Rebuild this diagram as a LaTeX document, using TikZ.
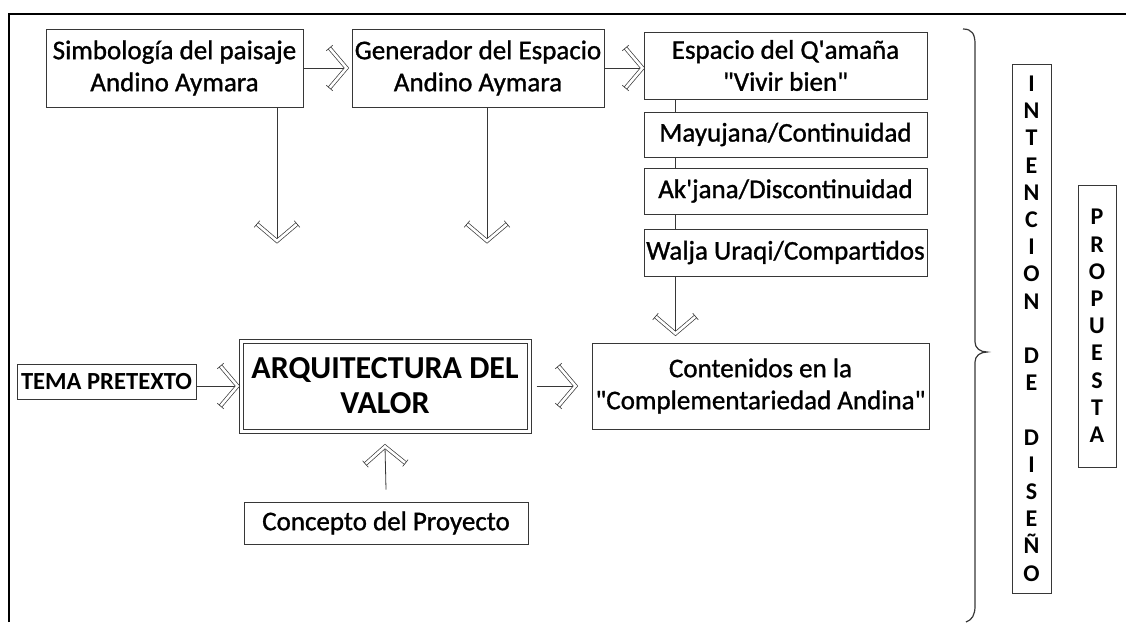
\documentclass[tikz,border=0pt]{standalone}
\usepackage{fontspec}
\setmainfont{Carlito}[Ligatures=TeXOff]
\newfontfamily\semib{Carlito}[Ligatures=TeXOff,FakeBold=1.1]
\usetikzlibrary{positioning,calc,decorations.markings}
\definecolor{edge}{RGB}{55,55,55}

\tikzset{
  stage/.style={draw=edge,line width=1pt,align=center,inner sep=0pt,
    font=\semib\fontsize{27}{32}\selectfont},
  letters/.style={draw=edge,line width=1pt,align=center,inner sep=0pt,
    font=\fontsize{24}{27.2}\selectfont\bfseries},
  link/.style={draw=edge,line width=.8pt,postaction={decorate,decoration={markings,
    mark=at position 1 with {
      \draw[edge,double,double distance=2.6pt,line width=.7pt,line join=miter]
        (-17pt,20pt) -- (0,0) -- (-17pt,-20pt);
      \draw[edge,line width=.6pt] (-20.3pt,17.2pt) -- (-13.7pt,22.8pt)
        (-20.3pt,-17.2pt) -- (-13.7pt,-22.8pt);}}}}
}

\begin{document}
\begin{tikzpicture}[x=1pt,y=-1pt]
    \useasboundingbox (0,0) rectangle (1126,622);
    \draw[line width=2pt] (9,622) -- (9,13.5) -- (1126,13.5);
    % top row
    \node[stage,minimum width=257pt,minimum height=78pt] (simb) at (174.5,68) {Simbología del paisaje\\Andino Aymara};
    \node[stage,minimum width=252pt,minimum height=78pt] (gener) at (478,68) {Generador del Espacio\\Andino Aymara};
    \node[stage,minimum width=283pt,minimum height=67pt] (qamana) at (785.5,65.5) {Espacio del Q'amaña\\"Vivir bien"};
    \foreach \t/\n/\y/\h in {{Mayujana/Continuidad}/mayu/134.5/45,
      {Ak'jana/Discontinuidad}/akja/191/46,
      {Walja Uraqi/Compartidos}/walja/252.5/47}
    {
      \node[stage,minimum width=283pt,minimum height=\h pt] (\n) at (785.5,\y) {\t};
    }
    \foreach \a/\b in {qamana/mayu,mayu/akja,akja/walja}
      \draw[edge,line width=.8pt] ([xshift=32pt]\a.south west) -- ([xshift=32pt]\b.north west);
    % lower row
    \node[stage,font=\fontsize{24.6}{28}\selectfont\bfseries,minimum width=179pt,minimum height=35pt] (tema) at (106.5,381.5) {TEMA PRETEXTO};
    \node[stage,double,double distance=3pt,font=\fontsize{32}{35}\selectfont\bfseries,minimum width=288pt,minimum height=90pt] (arq) at (385,386) {ARQUITECTURA DEL\\VALOR};
    \node[stage,minimum width=284pt,minimum height=42pt] (concept) at (386,523) {Concepto del Proyecto};
    \node[stage,minimum width=337pt,minimum height=86pt] (conten) at (760.5,386) {Contenidos en la\\"Complementariedad Andina"};
    % right side
    \node[letters,minimum width=39pt,minimum height=529pt] (inten) at (1031.5,328.5)
      {I\\N\\T\\E\\N\\C\\I\\O\\N\\[27.2pt]D\\E\\[27.2pt]D\\I\\S\\E\\Ñ\\O};
    \node[letters,minimum width=38pt,minimum height=282pt] (prop) at (1097,326)
      {P\\R\\O\\P\\U\\E\\S\\T\\A};
    \draw[edge,line width=1.2pt] (963,29) .. controls (972,29) and (975,34) .. (975,44)
      -- (975,342) .. controls (975,348) and (980,352) .. (987,352)
      .. controls (980,352) and (975,356) .. (975,362)
      -- (975,606) .. controls (975,615) and (972,620) .. (966,622);
    % connectors
    \coordinate (dropA) at (277,241);
    \coordinate (dropB) at (487,241);
    \draw[link] (simb.east) -- ([xshift=-5pt]gener.west);
    \draw[link] (gener.east) -- ([xshift=-1pt]gener.east -| qamana.west);
    \draw[link] (simb.south -| dropA) -- (dropA);
    \draw[link] (gener.south -| dropB) -- (dropB);
    \draw[link] ([xshift=32pt]walja.south west) -- ([xshift=84pt,yshift=9pt]conten.north west);
    \draw[link] (tema.east |- arq.center) -- ([xshift=-3pt]arq.west);
    \draw[link] ([xshift=7pt]arq.east) -- ([xshift=-16pt]conten.west);
    \draw[link] ([yshift=12pt]concept.north) -- ([yshift=-15pt]arq.south);
\end{tikzpicture}
\end{document}
